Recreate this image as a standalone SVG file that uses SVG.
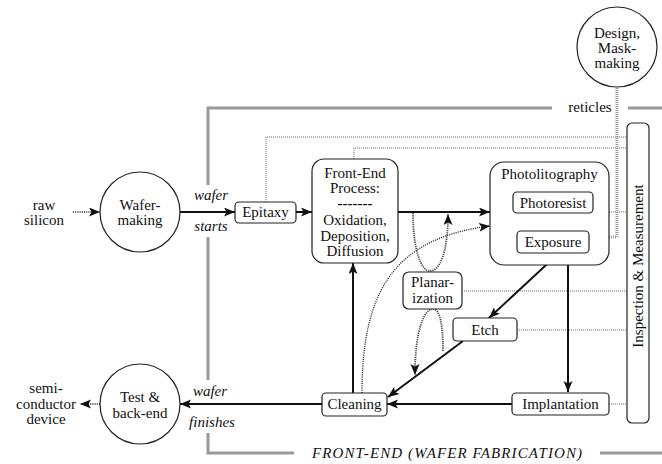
<svg xmlns="http://www.w3.org/2000/svg" width="662" height="464" viewBox="0 0 662 464" font-family="'Liberation Serif', 'Times New Roman', 'DejaVu Serif', 'Noto Serif', serif">
<defs>
<style>
text{font-family:'Liberation Serif','Times New Roman','DejaVu Serif','Noto Serif',serif;font-size:15px;fill:#111;text-anchor:middle}
.it{font-style:italic}
.box{fill:#fff;stroke:#222;stroke-width:1.2}
.frame{fill:none;stroke:#999;stroke-width:3}
.thick{fill:none;stroke:#111;stroke-width:2}
.dot{fill:none;stroke:#111;stroke-width:1.3;stroke-dasharray:1 1.2}
.tdot{fill:none;stroke:#444;stroke-width:1.8;stroke-dasharray:1.2 1}
.thin{fill:none;stroke:#666;stroke-width:1;stroke-dasharray:1 1}
.gdot{fill:none;stroke:#999;stroke-width:3;stroke-dasharray:1 1}
</style>
<marker id="ah" markerUnits="userSpaceOnUse" markerWidth="12" markerHeight="10" refX="11" refY="4.5" orient="auto">
<path d="M0,0 L11,4.5 L0,9 L2.5,4.5 Z" fill="#111"/>
</marker>
<marker id="gah" markerUnits="userSpaceOnUse" markerWidth="12" markerHeight="10" refX="11" refY="4.5" orient="auto">
<path d="M0,0 L11,4.5 L0,9 L2.5,4.5 Z" fill="#888"/>
</marker>
</defs>

<g id="frame">
<path class="frame" d="M552,108 H208 V185"/>
<path class="frame" d="M628,108 H662"/>
<path class="frame" d="M208,237 V380"/>
<path class="frame" d="M208,433 V453 H294"/>
<path class="frame" d="M600,453 H662"/>
<text x="590" y="112">reticles</text>
<text class="it" x="447" y="458" textLength="270" lengthAdjust="spacing">FRONT-END (WAFER FABRICATION)</text>
</g>

<g id="connectors">
<path class="thin" d="M266,202 V137 H627"/>
<path class="thin" d="M354,159 V148 H627"/>
<path class="thin" d="M609,212 H627"/>
<path class="thin" d="M462,291 H627"/>
<path class="thin" d="M517,330 H627"/>
<path class="thin" d="M609,404 H627"/>
<path class="gdot" d="M617,88 V237 H598" marker-end="url(#gah)"/>
<path class="dot" d="M73,212 H100" marker-end="url(#ah)"/>
<path class="dot" d="M100,404 H80" marker-end="url(#ah)"/>
<path class="thick" d="M180,212 H235" marker-end="url(#ah)"/>
<path class="thick" d="M296,212 H312" marker-end="url(#ah)"/>
<path class="thick" d="M398,212 H490" marker-end="url(#ah)"/>
<path class="thick" d="M553,213 V231" marker-end="url(#ah)"/>
<path class="thick" d="M559,253 L489,318" marker-end="url(#ah)"/>
<path class="thick" d="M568,253 V392" marker-end="url(#ah)"/>
<path class="thick" d="M463,341 L388,397" marker-end="url(#ah)"/>
<path class="thick" d="M512,404 H387" marker-end="url(#ah)"/>
<path class="thick" d="M322,404 H180" marker-end="url(#ah)"/>
<path class="thick" d="M353,393 V263" marker-end="url(#ah)"/>
<path class="dot" d="M362,393 C362,290 395,238 490,226" marker-end="url(#ah)"/>
<path class="tdot" d="M413,213 C413,250 421,271 430,271 C440,271 448,252 448,214" marker-end="url(#ah)"/>
<path class="tdot" d="M443,351 C443,325 440,309 433,309 C424,309 415,330 415,375" marker-end="url(#ah)"/>
<text class="it" x="211" y="200">wafer</text>
<text class="it" x="211" y="231">starts</text>
<text class="it" x="210" y="396">wafer</text>
<text class="it" x="212" y="427">finishes</text>
</g>

<g id="raw-silicon">
<text x="44" y="210">raw</text>
<text x="44" y="225">silicon</text>
</g>

<g id="wafer-making">
<circle cx="140" cy="212" r="40" class="box"/>
<text x="140" y="210">Wafer-</text>
<text x="140" y="225">making</text>
</g>

<g id="epitaxy">
<rect x="235" y="202" width="61" height="21" rx="4" class="box"/>
<text x="265.5" y="217">Epitaxy</text>
</g>

<g id="front-end">
<rect x="312" y="159" width="86" height="104" rx="12" class="box"/>
<text x="355" y="178">Front-End</text>
<text x="355" y="193">Process:</text>
<text x="355" y="208" font-weight="bold">-------</text>
<text x="355" y="225">Oxidation,</text>
<text x="355" y="241">Deposition,</text>
<text x="355" y="256">Diffusion</text>
</g>

<g id="photolitography">
<rect x="490" y="162" width="119" height="103" rx="14" class="box"/>
<text x="549.5" y="179">Photolitography</text>
</g>

<g id="photoresist">
<rect x="513" y="192" width="80" height="21" rx="4" class="box"/>
<text x="553" y="208">Photoresist</text>
</g>

<g id="exposure">
<rect x="517" y="231" width="72" height="22" rx="4" class="box"/>
<text x="553" y="247">Exposure</text>
</g>

<g id="planarization">
<rect x="403" y="272" width="59" height="37" rx="6" class="box"/>
<text x="432.5" y="287">Planar-</text>
<text x="432.5" y="303">ization</text>
</g>

<g id="etch">
<rect x="453" y="318" width="64" height="23" rx="4" class="box"/>
<text x="485" y="335">Etch</text>
</g>

<g id="implantation">
<rect x="512" y="393" width="97" height="22" rx="4" class="box"/>
<text x="560.5" y="409">Implantation</text>
</g>

<g id="cleaning">
<rect x="322" y="393" width="65" height="23" rx="4" class="box"/>
<text x="354.5" y="409">Cleaning</text>
</g>

<g id="test-back-end">
<circle cx="140" cy="404" r="40" class="box"/>
<text x="140" y="402">Test &amp;</text>
<text x="140" y="418">back-end</text>
</g>

<g id="semiconductor-device">
<text x="46" y="393">semi-</text>
<text x="46" y="409">conductor</text>
<text x="46" y="424">device</text>
</g>

<g id="design">
<circle cx="617" cy="47" r="40" class="box"/>
<text x="617" y="38">Design,</text>
<text x="617" y="53">Mask-</text>
<text x="617" y="68">making</text>
</g>

<g id="inspection">
<rect x="627" y="123" width="22" height="300" rx="5" class="box"/>
<text x="0" y="0" transform="translate(643,266) rotate(-90)">Inspection &amp; Measurement</text>
</g>
</svg>
